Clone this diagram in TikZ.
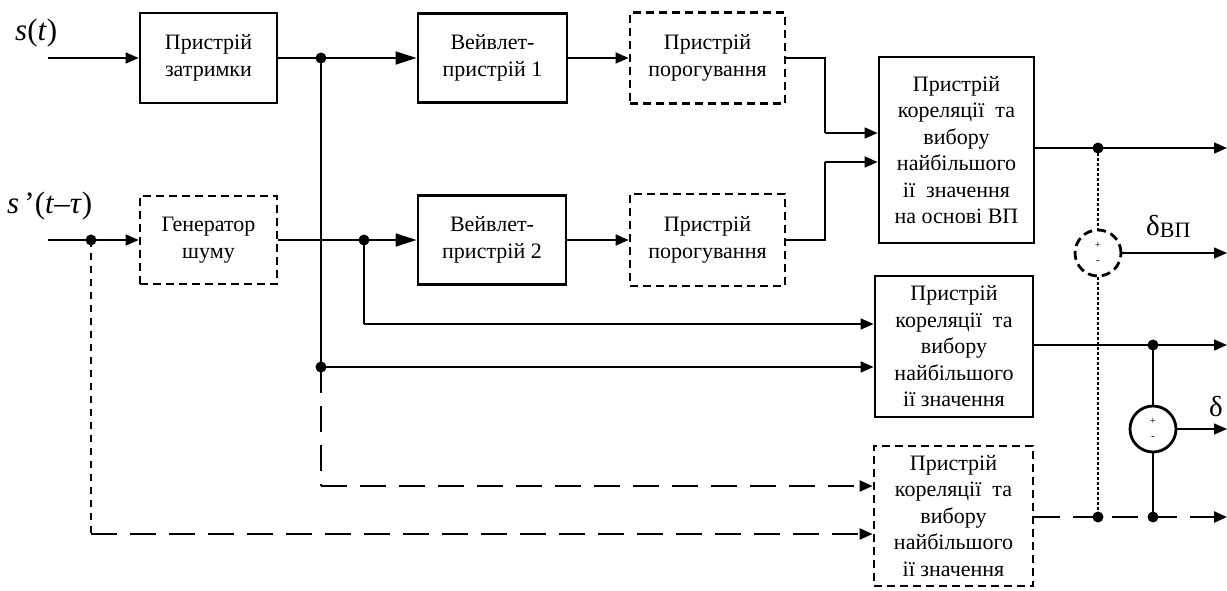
\documentclass[tikz,border=0pt]{standalone}
\usepackage{fontspec}
\setmainfont{Liberation Serif}
\usetikzlibrary{arrows.meta,calc}
\begin{document}
\begin{tikzpicture}[x=1pt,y=-1pt,
  box/.style={draw,line width=2.8pt,rectangle,inner sep=0pt,align=center,font=\fontsize{22}{26.5}\selectfont},
  dbox/.style={box,dash pattern=on 8pt off 5pt},
  conn/.style={line width=1.5pt},
  arr/.style={conn,-{Triangle[length=13pt,width=11pt]}},
  barr/.style={conn,-{Triangle[length=21pt,width=13pt]}},
  longdash/.style={line width=2.4pt,dash pattern=on 26pt off 13pt},
  shortdash/.style={line width=2pt,dash pattern=on 7pt off 6pt},
  finedot/.style={line width=1.2pt,dash pattern=on 3pt off 2pt},
  dot/.style={circle,fill,inner sep=0pt,minimum size=11pt},
  summer/.style={circle,draw,line width=2.8pt,minimum size=46pt,inner sep=0pt},
  sign/.style={inner sep=0pt,font=\fontsize{11}{11}\selectfont},
  lbl/.style={anchor=base west,inner sep=0pt,font=\fontsize{31}{31}\selectfont}
]
\useasboundingbox (0,0) rectangle (1227,590);

% boxes
\node[box,minimum width=137pt,minimum height=90pt] (B1) at (208.5,58) {Пристрій\\затримки};
\node[dbox,minimum width=137pt,minimum height=88pt] (G) at (208.5,240) {Генератор\\шуму};
\node[box,minimum width=149pt,minimum height=89pt] (W1) at (492.5,58) {Вейвлет-\\пристрій 1};
\node[box,minimum width=148pt,minimum height=89pt] (W2) at (492,240) {Вейвлет-\\пристрій 2};
\node[dbox,minimum width=155pt,minimum height=91pt] (P1) at (707.5,58) {Пристрій\\порогування};
\node[dbox,minimum width=155pt,minimum height=92pt] (P2) at (707.5,240) {Пристрій\\порогування};
\node[box,minimum width=155pt,minimum height=186pt] (VP) at (956.5,150) {Пристрій\\кореляції\ \ та\\вибору\\найбільшого\\ії\ \ значення\\на основі ВП};
\node[box,minimum width=158pt,minimum height=141pt] (K) at (954,346.5) {Пристрій\\кореляції\ \ та\\вибору\\найбільшого\\ії значення};
\node[dbox,minimum width=159pt,minimum height=140pt] (D) at (953.5,516) {Пристрій\\кореляції\ \ та\\вибору\\найбільшого\\ії значення};

% labels
\node[lbl] (ls) at (15,40) {\textit{s}(\textit{t})};
\node[lbl] (ls2) at (7,213) {\textit{s}\,’(\textit{t}–\textit{τ})};
\node[anchor=base west,inner sep=0pt,font=\fontsize{29}{29}\selectfont] (ldvp) at (1146,235) {δ\raisebox{-2pt}{\fontsize{22}{22}\selectfont ВП}};
\node[anchor=base west,inner sep=0pt,font=\fontsize{29}{29}\selectfont] (ld) at (1209,416) {δ};

% junctions
\coordinate (in1) at (48,58);
\coordinate (in2) at (48,240);
\node[dot] (S) at (91,240) {};
\node[dot] (J1) at (321,58) {};
\node[dot] (J2) at (364,240) {};
\node[dot] (J3) at (321,367) {};
\coordinate (S2) at (91,534);
\coordinate (J2b) at (364,324);
\coordinate (J3b) at (321,486);
\coordinate (b1) at (825,58);
\coordinate (b1e) at (825,133);
\coordinate (b2) at (825,240);
\coordinate (b2e) at (825,162);

% outputs
\coordinate (r1) at (1227,148);
\coordinate (r2) at (1227,253);
\coordinate (r3) at (1227,345);
\coordinate (r4) at (1227,429);
\coordinate (r5) at (1227,517);
\node[dot] (E1) at (1098,148) {};
\node[dot] (E2) at (1153,345) {};
\node[dot] (E3) at (1098,517) {};
\node[dot] (E4) at (1153,517) {};
\node[summer,dash pattern=on 9pt off 5pt] (C1) at (1098,253) {};
\node[summer] (C2) at (1153,429) {};
\node[sign] (c1p) at (1098,245) {+};
\node[sign] (c1m) at (1098,262) {-};
\node[sign] (c2p) at (1153,421) {+};
\node[sign] (c2m) at (1153,438) {-};

% connectors: top
\draw[arr] (in1) -- (B1.west);
\draw[conn] (B1.east) -- (J1.center);
\draw[barr] (J1.center) -- (W1.west);
\draw[arr] (W1.east) -- (P1.west);
\draw[conn] (P1.east) -- (b1) -- (b1e);
\draw[arr] (b1e) -- (b1e -| VP.west);
\draw[conn] (P2.east) -- (b2) -- (b2e);
\draw[arr] (b2e) -- (b2e -| VP.west);

% second row
\draw[arr] (in2) -- (G.west);
\draw[conn] (G.east) -- (J2.center);
\draw[barr] (J2.center) -- (W2.west);
\draw[arr] (W2.east) -- (P2.west);

% verticals
\draw[conn] (J1.center) -- (J3.center);
\draw[arr] (J3.center) -- (J3 -| K.west);
\draw[conn] (J2.center) -- (J2b);
\draw[arr] (J2b) -- (J2b -| K.west);
\draw[longdash] (J3.center) -- (J3b);
\draw[longdash,-{Triangle[length=13pt,width=11pt]}] (J3b) -- (J3b -| D.west);
\draw[shortdash] (S.center) -- (S2);
\draw[longdash,-{Triangle[length=13pt,width=11pt]}] (S2) -- (S2 -| D.west);

% right side
\draw[arr] (VP.east |- r1) -- (r1);
\draw[arr] (C1.east) -- (C1.east -| r2);
\draw[arr] (K.east |- r3) -- (r3);
\draw[arr] (C2.east) -- (C2.east -| r4);
\draw[longdash,-{Triangle[length=13pt,width=11pt]}] (D.east |- r5) -- (r5);
\draw[finedot] (E1.center) -- (C1.north);
\draw[finedot] (C1.south) -- (E3.center);
\draw[conn] (E2.center) -- (C2.north);
\draw[conn] (C2.south) -- (E4.center);
\end{tikzpicture}
\end{document}
